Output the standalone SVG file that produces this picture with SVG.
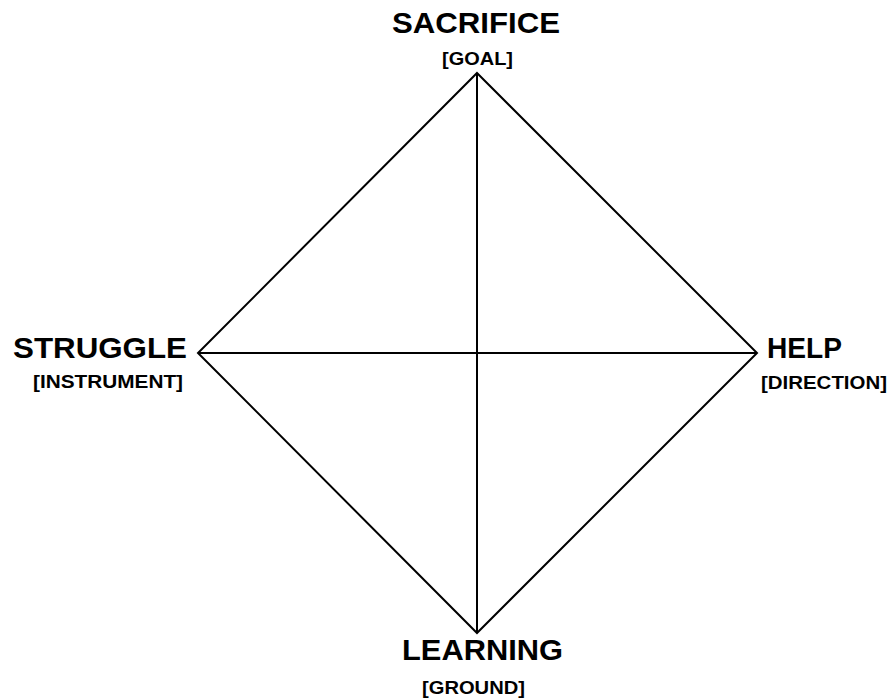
<svg xmlns="http://www.w3.org/2000/svg" width="890" height="699" viewBox="0 0 890 699">
<style>
.big{font-family:"Liberation Sans",Arial,sans-serif;font-weight:bold;font-size:30px;fill:#000}
.small{font-family:"Liberation Sans",Arial,sans-serif;font-weight:bold;font-size:18px;fill:#000}
.ln{stroke:#000;stroke-width:2;fill:none}
</style>
<rect width="890" height="699" fill="#fff"/>
<g id="connectors">
<polygon class="ln" points="477,73 757,353 477,633 198,353"/>
<line class="ln" x1="477" y1="73" x2="477" y2="633"/>
<line class="ln" x1="198" y1="353" x2="757" y2="353"/>
</g>
<g id="sacrifice">
<text class="big" x="392" y="33" textLength="168" lengthAdjust="spacingAndGlyphs">SACRIFICE</text>
<text class="small" x="442" y="65" textLength="71" lengthAdjust="spacingAndGlyphs">[GOAL]</text>
</g>
<g id="struggle">
<text class="big" x="13" y="358" textLength="174" lengthAdjust="spacingAndGlyphs">STRUGGLE</text>
<text class="small" x="33" y="388" textLength="150" lengthAdjust="spacingAndGlyphs">[INSTRUMENT]</text>
</g>
<g id="help">
<text class="big" x="767" y="358" textLength="75" lengthAdjust="spacingAndGlyphs">HELP</text>
<text class="small" x="761" y="389" textLength="126" lengthAdjust="spacingAndGlyphs">[DIRECTION]</text>
</g>
<g id="learning">
<text class="big" x="402" y="660" textLength="161" lengthAdjust="spacingAndGlyphs">LEARNING</text>
<text class="small" x="422" y="694" textLength="103" lengthAdjust="spacingAndGlyphs">[GROUND]</text>
</g>
</svg>
